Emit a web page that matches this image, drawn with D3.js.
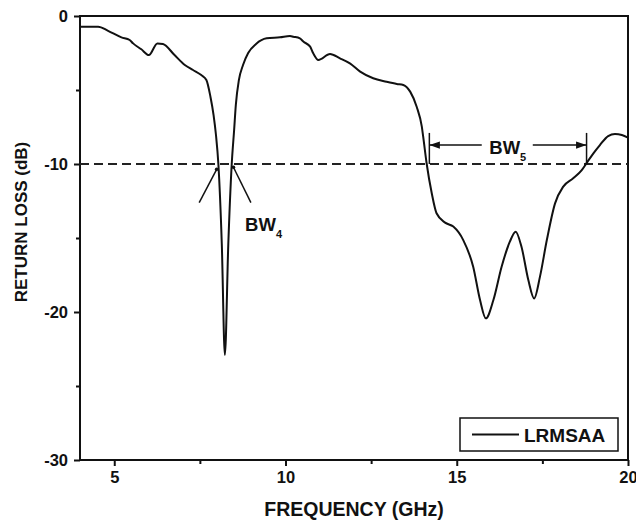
<!DOCTYPE html>
<html>
<head>
<meta charset="utf-8">
<script src="https://cdn.jsdelivr.net/npm/d3@7"></script>
<style>
  body { margin: 0; background: #fff; }
  text { font-family: "Liberation Sans", Arial, sans-serif; font-weight: bold; fill: #111; }
</style>
</head>
<body>
<div id="chart"></div>
<script>
// measured return loss curve (GHz, dB)
const freq = [4.00, 4.53, 4.82, 5.21, 5.45, 5.55, 5.79, 6.01, 6.26, 6.42, 6.76, 7.06, 7.30, 7.54,
  7.69, 7.81, 7.90, 7.97, 8.04, 8.14, 8.23, 8.33, 8.43, 8.50, 8.55, 8.64, 8.76, 8.91, 9.14, 9.45,
  9.84, 10.13, 10.23, 10.42, 10.52, 10.72, 10.81, 10.96, 11.30, 11.59, 11.88, 12.18, 12.56, 12.95,
  13.25, 13.44, 13.64, 13.83, 13.98, 14.02, 14.12, 14.27, 14.41, 14.66, 14.90, 15.19, 15.48, 15.68,
  15.85, 16.07, 16.31, 16.55, 16.72, 16.89, 17.09, 17.26, 17.43, 17.63, 17.87, 18.11, 18.40, 18.65,
  18.82, 18.99, 19.18, 19.42, 19.62, 19.82, 20.00];
const returnLoss = [-0.72, -0.72, -1.00, -1.44, -1.62, -1.85, -2.25, -2.64, -1.85, -1.89, -2.64, -3.31, -3.65, -3.99,
  -4.32, -5.47, -6.69, -8.04, -10.0, -15.4, -22.9, -15.4, -10.0, -7.7, -6.0, -4.32, -3.31, -2.5, -1.89, -1.51,
  -1.44, -1.35, -1.40, -1.51, -1.73, -2.07, -2.52, -2.97, -2.57, -2.86, -3.20, -3.76, -4.21, -4.44,
  -4.59, -4.66, -5.11, -6.13, -7.48, -8.15, -9.95, -11.98, -13.33, -13.96, -14.23, -15.14, -16.94, -19.19,
  -20.43, -19.19, -16.94, -15.25, -14.57, -15.59, -17.84, -19.08, -17.61, -15.14, -12.66, -11.53, -10.97, -10.41,
  -9.84, -9.28, -8.72, -8.11, -7.97, -8.04, -8.22];

const xMajor = [5, 10, 15, 20];
const xMinor = [7.5, 12.5, 17.5];
const yMajor = [0, -10, -20, -30];
const yMinor = [-5, -15, -25];
const threshold = -10;
const seriesName = "LRMSAA";
// bandwidth annotations
const bw4 = { lo: 8.04, hi: 8.43, label: "BW", sub: "4" };
const bw5 = { lo: 14.2, hi: 18.79, label: "BW", sub: "5" };

const W = 636, H = 523;
const m = { left: 80, right: 8, top: 16, bottom: 63 };

const svg = d3.select("#chart").append("svg")
  .attr("width", W).attr("height", H);

const x = d3.scaleLinear().domain([4, 20]).range([m.left, W - m.right]);
const y = d3.scaleLinear().domain([-30, 0]).range([H - m.bottom, m.top]);

svg.append("defs").html(`
  <marker id="arr" viewBox="0 0 10 10" refX="10" refY="5" markerWidth="7" markerHeight="7" orient="auto-start-reverse">
    <path d="M0,1.5 L10,5 L0,8.5 z" fill="#111"></path>
  </marker>`);

// axes
const gx = svg.append("g").attr("transform", `translate(0,${y(-30)})`)
  .call(d3.axisBottom(x).tickValues(xMajor).tickSize(6).tickFormat(d => String(d)));
svg.append("g").attr("transform", `translate(0,${y(-30)})`)
  .call(d3.axisBottom(x).tickValues(xMinor).tickSize(4).tickFormat(""));
const gy = svg.append("g").attr("transform", `translate(${x(4)},0)`)
  .call(d3.axisLeft(y).tickValues(yMajor).tickSize(6).tickFormat(d => String(d)));
svg.append("g").attr("transform", `translate(${x(4)},0)`)
  .call(d3.axisLeft(y).tickValues(yMinor).tickSize(4).tickFormat(""));

svg.selectAll(".domain").remove();
svg.selectAll(".tick line").attr("stroke", "#111").attr("stroke-width", 2);
gx.selectAll("text").attr("font-size", 16.5).attr("y", 9).attr("dy", "0.85em");
gy.selectAll("text").attr("font-size", 16.5).attr("x", -12);

// frame
svg.append("rect")
  .attr("x", x(4)).attr("y", y(0))
  .attr("width", x(20) - x(4)).attr("height", y(-30) - y(0))
  .attr("fill", "none").attr("stroke", "#111").attr("stroke-width", 2);

// axis titles
svg.append("text")
  .attr("x", (x(4) + x(20)) / 2).attr("y", 516)
  .attr("text-anchor", "middle").attr("font-size", 19.5)
  .text("FREQUENCY (GHz)");
svg.append("text")
  .attr("transform", `translate(27,222) rotate(-90)`)
  .attr("text-anchor", "middle").attr("font-size", 17)
  .text("RETURN LOSS (dB)");

// -10 dB reference
svg.append("line")
  .attr("x1", x(4)).attr("x2", x(20))
  .attr("y1", y(threshold)).attr("y2", y(threshold))
  .attr("stroke", "#222").attr("stroke-width", 2).attr("stroke-dasharray", "9,5");

// curve
const pts = freq.map((f, i) => [f, returnLoss[i]]);
svg.append("path")
  .datum(pts)
  .attr("fill", "none").attr("stroke", "#111").attr("stroke-width", 2)
  .attr("stroke-linejoin", "round")
  .attr("d", d3.line().x(d => x(d[0])).y(d => y(d[1])).curve(d3.curveMonotoneX));

// BW4 annotation: two slanted pointers from the -10 dB crossings
const ann = svg.append("g").attr("stroke", "#111").attr("stroke-width", 1.5);
ann.append("line")
  .attr("x1", x(bw4.lo - 0.05)).attr("y1", y(-10.36))
  .attr("x2", x(bw4.lo - 0.56)).attr("y2", y(-12.61));
ann.append("line")
  .attr("x1", x(bw4.hi + 0.05)).attr("y1", y(-10.22))
  .attr("x2", x(bw4.hi + 0.56)).attr("y2", y(-12.61));
svg.append("circle").attr("cx", x(bw4.lo - 0.05)).attr("cy", y(-10.36)).attr("r", 1.8).attr("fill", "#111");
svg.append("circle").attr("cx", x(bw4.hi + 0.05)).attr("cy", y(-10.22)).attr("r", 1.8).attr("fill", "#111");

const t4 = svg.append("text").attr("x", x(8.82)).attr("y", y(-14.5)).attr("font-size", 18.5);
t4.append("tspan").text(bw4.label);
t4.append("tspan").attr("font-size", 11).attr("dy", 7).text(bw4.sub);

// BW5 annotation: bracket with arrows
const yArr = -8.72;
ann.append("line").attr("x1", x(bw5.lo)).attr("x2", x(bw5.lo)).attr("y1", y(-7.9)).attr("y2", y(-10));
ann.append("line").attr("x1", x(bw5.hi)).attr("x2", x(bw5.hi)).attr("y1", y(-7.9)).attr("y2", y(-10));
ann.append("line").attr("x1", x(15.73)).attr("x2", x(bw5.lo)).attr("y1", y(yArr)).attr("y2", y(yArr))
  .attr("marker-end", "url(#arr)");
ann.append("line").attr("x1", x(17.22)).attr("x2", x(bw5.hi)).attr("y1", y(yArr)).attr("y2", y(yArr))
  .attr("marker-end", "url(#arr)");

const t5 = svg.append("text").attr("x", x(15.95)).attr("y", y(-9.3)).attr("font-size", 18.5);
t5.append("tspan").text(bw5.label);
t5.append("tspan").attr("font-size", 11).attr("dy", 7).text(bw5.sub);

// legend
const lg = svg.append("g").attr("transform", `translate(460,418)`);
lg.append("rect").attr("width", 158).attr("height", 33)
  .attr("fill", "#fff").attr("stroke", "#111").attr("stroke-width", 1.5);
lg.append("line").attr("x1", 12).attr("x2", 59).attr("y1", 16.5).attr("y2", 16.5)
  .attr("stroke", "#111").attr("stroke-width", 2);
lg.append("text").attr("x", 64).attr("y", 24).attr("font-size", 19).text(seriesName);
</script>
</body>
</html>
